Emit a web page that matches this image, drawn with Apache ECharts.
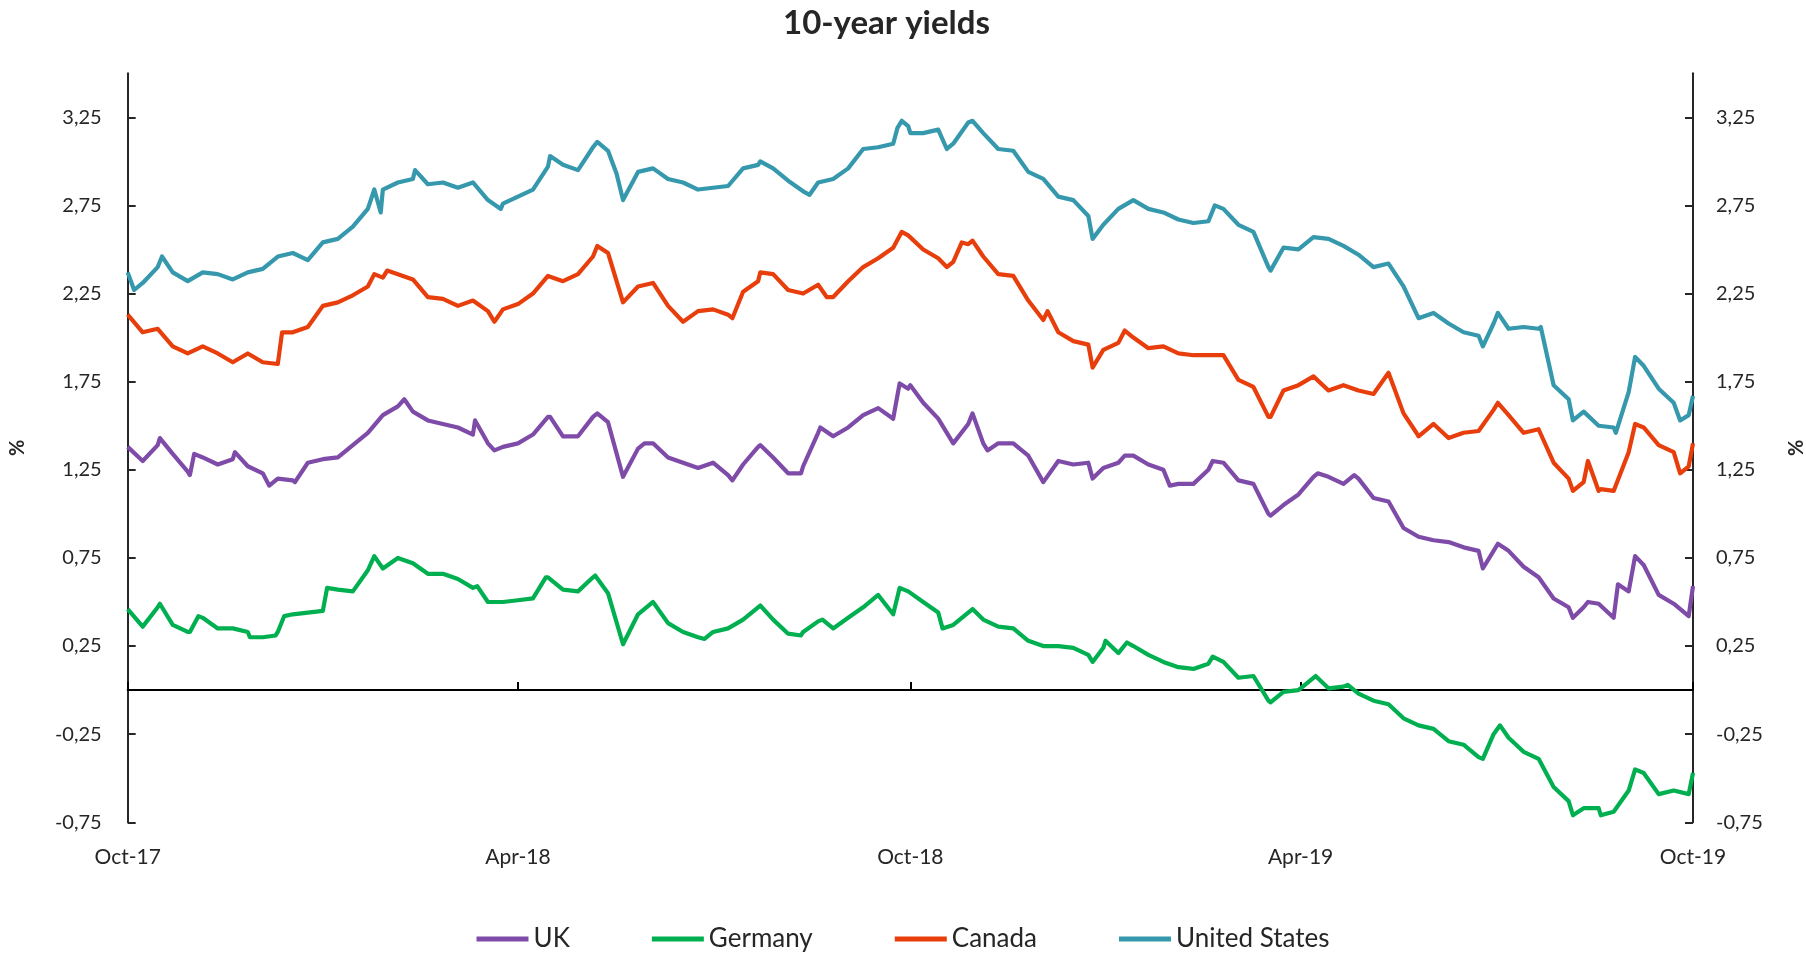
<!DOCTYPE html>
<html>
<head>
<meta charset="utf-8">
<script src="https://cdn.jsdelivr.net/npm/echarts@6/dist/echarts.min.js"></script>
<style>
html,body{margin:0;padding:0;background:#fff;}
#chart{width:1806px;height:959px;}
</style>
</head>
<body>
<div id="chart"></div>
<script>
// x positions: days since 1 Oct 2017; weekly observations plus extra observations read at turning points
const weekDays = [];
for (let k = 0; k <= 104; k++) weekDays.push(k * 7);
const lastDay = 730;

const tickDays = [0, 182, 365, 547, 730];
const tickLabels = ['Oct-17', 'Apr-18', 'Oct-18', 'Apr-19', 'Oct-19'];
const yTicks = [-0.75, -0.25, 0.25, 0.75, 1.25, 1.75, 2.25, 2.75, 3.25];

const seriesNames = ['UK', 'Germany', 'Canada', 'United States'];
const seriesColors = ['#7E4CA8', '#00B050', '#E83E0C', '#3598AC'];

// ---- UK ----
const ukValues = [
  1.38, 1.30, 1.39, 1.34, 1.24, 1.32, 1.28, 1.31, 1.27, 1.23,
  1.20, 1.19, 1.23, 1.31, 1.32, 1.39, 1.46, 1.56, 1.61, 1.58,
  1.53, 1.51, 1.49, 1.45, 1.40, 1.38, 1.40, 1.45, 1.55, 1.44,
  1.44, 1.55, 1.52, 1.22, 1.37, 1.40, 1.32, 1.29, 1.26, 1.29,
  1.22, 1.28, 1.38, 1.32, 1.23, 1.27, 1.46, 1.44, 1.49, 1.56,
  1.60, 1.56, 1.71, 1.63, 1.54, 1.40, 1.51, 1.40, 1.40, 1.40,
  1.33, 1.22, 1.30, 1.28, 1.29, 1.26, 1.29, 1.33, 1.28, 1.25,
  1.17, 1.17, 1.25, 1.29, 1.19, 1.17, 1.00, 1.05, 1.11, 1.21,
  1.21, 1.17, 1.20, 1.09, 1.07, 0.92, 0.87, 0.85, 0.84, 0.81,
  0.79, 0.79, 0.79, 0.70, 0.64, 0.52, 0.47, 0.47, 0.49, 0.45,
  0.56, 0.71, 0.54, 0.49, 0.44
];
const ukLast = 0.59;
const ukExtraDays = [15, 29, 31, 50, 66, 78, 84, 129, 162, 171, 197, 219, 231, 241, 282, 295, 314, 323, 357, 360, 365, 394, 401, 427, 450, 465, 486, 506, 533, 555, 572, 632, 639, 674, 681, 693, 695, 703, 728];
const ukExtraValues = [1.43, 1.22, 1.34, 1.35, 1.16, 1.18, 1.29, 1.65, 1.53, 1.36, 1.55, 1.57, 1.21, 1.40, 1.19, 1.39, 1.23, 1.49, 1.54, 1.74, 1.73, 1.57, 1.36, 1.18, 1.20, 1.33, 1.16, 1.30, 0.99, 1.23, 1.22, 0.69, 0.83, 0.41, 0.50, 0.41, 0.60, 0.76, 0.42];

// ---- Germany ----
const germanyValues = [
  0.46, 0.38, 0.47, 0.37, 0.33, 0.41, 0.35, 0.35, 0.33, 0.30,
  0.33, 0.43, 0.44, 0.45, 0.57, 0.56, 0.68, 0.73, 0.75, 0.72,
  0.66, 0.66, 0.63, 0.58, 0.50, 0.50, 0.51, 0.52, 0.64, 0.57,
  0.56, 0.64, 0.55, 0.28, 0.43, 0.49, 0.38, 0.33, 0.30, 0.33,
  0.35, 0.40, 0.47, 0.40, 0.32, 0.33, 0.39, 0.35, 0.41, 0.47,
  0.53, 0.47, 0.56, 0.50, 0.44, 0.37, 0.44, 0.40, 0.36, 0.35,
  0.28, 0.25, 0.25, 0.24, 0.20, 0.24, 0.21, 0.25, 0.20, 0.16,
  0.13, 0.12, 0.15, 0.16, 0.07, 0.08, -0.06, -0.01, 0.00, 0.07,
  0.01, 0.02, -0.02, -0.06, -0.08, -0.16, -0.20, -0.22, -0.29, -0.31,
  -0.38, -0.25, -0.27, -0.35, -0.39, -0.55, -0.63, -0.67, -0.67, -0.69,
  -0.57, -0.47, -0.59, -0.57, -0.58
];
const germanyLast = -0.47;
const germanyExtraDays = [7, 15, 29, 33, 57, 69, 73, 93, 115, 119, 163, 195, 218, 231, 245, 269, 295, 314, 324, 350, 357, 360, 380, 394, 450, 456, 466, 506, 533, 554, 569, 632, 640, 674, 687, 703, 728];
const germanyExtraValues = [0.36, 0.49, 0.33, 0.42, 0.30, 0.31, 0.42, 0.58, 0.76, 0.69, 0.59, 0.64, 0.65, 0.26, 0.50, 0.29, 0.48, 0.31, 0.40, 0.54, 0.43, 0.58, 0.35, 0.46, 0.16, 0.28, 0.27, 0.19, -0.07, 0.08, 0.03, -0.39, -0.20, -0.71, -0.71, -0.45, -0.59];

// ---- Canada ----
const canadaValues = [
  2.13, 2.03, 2.05, 1.95, 1.91, 1.95, 1.91, 1.86, 1.91, 1.86,
  1.88, 2.03, 2.06, 2.18, 2.20, 2.24, 2.29, 2.34, 2.36, 2.33,
  2.23, 2.22, 2.18, 2.21, 2.15, 2.16, 2.19, 2.25, 2.35, 2.32,
  2.36, 2.46, 2.48, 2.22, 2.29, 2.31, 2.18, 2.09, 2.15, 2.16,
  2.13, 2.26, 2.32, 2.36, 2.27, 2.25, 2.30, 2.23, 2.32, 2.40,
  2.45, 2.51, 2.58, 2.50, 2.45, 2.43, 2.53, 2.46, 2.36, 2.35,
  2.21, 2.10, 2.03, 1.98, 1.96, 1.93, 1.97, 2.00, 1.94, 1.95,
  1.91, 1.90, 1.90, 1.90, 1.76, 1.72, 1.55, 1.70, 1.73, 1.78,
  1.70, 1.73, 1.70, 1.68, 1.73, 1.57, 1.44, 1.51, 1.43, 1.46,
  1.47, 1.59, 1.56, 1.46, 1.48, 1.29, 1.20, 1.18, 1.13, 1.14,
  1.35, 1.49, 1.39, 1.35, 1.27
];
const canadaLast = 1.40;
const canadaExtraDays = [70, 72, 115, 121, 171, 219, 231, 259, 282, 295, 326, 361, 382, 389, 394, 429, 450, 465, 533, 588, 601, 639, 674, 681, 687, 693, 703, 724];
const canadaExtraValues = [1.85, 2.03, 2.36, 2.38, 2.09, 2.52, 2.20, 2.09, 2.11, 2.37, 2.23, 2.60, 2.40, 2.54, 2.55, 2.15, 1.83, 2.04, 1.55, 1.80, 1.46, 1.63, 1.13, 1.30, 1.14, 1.13, 1.51, 1.23];

// ---- United States ----
const usValues = [
  2.37, 2.31, 2.40, 2.37, 2.32, 2.37, 2.36, 2.33, 2.37, 2.39,
  2.46, 2.48, 2.44, 2.54, 2.56, 2.63, 2.73, 2.84, 2.88, 2.90,
  2.87, 2.88, 2.85, 2.88, 2.78, 2.76, 2.80, 2.84, 2.97, 2.98,
  2.95, 3.08, 3.06, 2.79, 2.94, 2.96, 2.90, 2.88, 2.84, 2.85,
  2.86, 2.96, 2.98, 2.96, 2.89, 2.83, 2.88, 2.90, 2.96, 3.07,
  3.08, 3.10, 3.20, 3.16, 3.18, 3.10, 3.22, 3.16, 3.07, 3.06,
  2.94, 2.90, 2.80, 2.78, 2.69, 2.64, 2.73, 2.78, 2.73, 2.71,
  2.67, 2.65, 2.66, 2.73, 2.64, 2.60, 2.40, 2.51, 2.50, 2.57,
  2.56, 2.52, 2.47, 2.40, 2.42, 2.29, 2.11, 2.14, 2.08, 2.03,
  2.01, 2.08, 2.05, 2.06, 2.05, 1.73, 1.65, 1.58, 1.50, 1.49,
  1.69, 1.84, 1.71, 1.63, 1.56
];
const usLast = 1.67;
const usExtraDays = [3, 16, 115, 118, 134, 174, 197, 219, 228, 231, 295, 318, 359, 361, 365, 382, 394, 450, 507, 533, 632, 639, 659, 674, 694, 703, 724];
const usExtraValues = [2.27, 2.46, 2.84, 2.71, 2.95, 2.73, 3.03, 3.11, 2.93, 2.78, 3.00, 2.81, 3.19, 3.23, 3.16, 3.07, 3.23, 2.56, 2.75, 2.38, 1.95, 2.14, 2.06, 1.53, 1.46, 1.89, 1.53];

function pairs(values, last, exDays, exValues) {
  const m = new Map();
  values.forEach((v, i) => m.set(weekDays[i], v));
  exDays.forEach((d, i) => m.set(d, exValues[i]));
  m.set(lastDay, last);
  return Array.from(m.entries()).sort((a, b) => a[0] - b[0]);
}

const FONT = 'Lato, "Open Sans", sans-serif';
const TXT = '#262626';
const AX = '#262626';

const chart = echarts.init(document.getElementById('chart'), null, {renderer: 'canvas'});

const yFmt = v => v.toFixed(2).replace('.', ',');

function yAxis(pos) {
  return {
    type: 'value', position: pos, min: -0.75, max: 3.5,
    axisLine: {show: true, onZero: false, lineStyle: {color: AX, width: 2}},
    axisTick: {show: true, inside: true, length: 8, customValues: yTicks, lineStyle: {color: AX, width: 2}},
    axisLabel: {customValues: yTicks, formatter: yFmt, margin: pos === 'left' ? 26 : 23,
      color: TXT, fontFamily: FONT, fontSize: 20},
    splitLine: {show: false},
    name: '%', nameLocation: 'middle', nameGap: pos === 'left' ? 100 : 94,
    nameRotate: 90,
    nameTextStyle: {color: TXT, fontFamily: FONT, fontSize: 20, fontWeight: 'bold'}
  };
}

const data = [
  pairs(ukValues, ukLast, ukExtraDays, ukExtraValues),
  pairs(germanyValues, germanyLast, germanyExtraDays, germanyExtraValues),
  pairs(canadaValues, canadaLast, canadaExtraDays, canadaExtraValues),
  pairs(usValues, usLast, usExtraDays, usExtraValues)
];

chart.setOption({
  animation: false,
  backgroundColor: '#fff',
  title: {
    text: '10-year yields', left: 778, top: 2,
    textStyle: {fontFamily: FONT, fontSize: 33, fontWeight: 'bold', color: TXT}
  },
  legend: {
    data: seriesNames, bottom: 2, left: 'center',
    icon: 'rect', itemWidth: 52, itemHeight: 5, itemGap: 82,
    textStyle: {fontFamily: FONT, fontSize: 26, color: TXT}
  },
  grid: {left: 127.7, right: 113, top: 73.2, bottom: 136.7, containLabel: false, outerBoundsMode: 'none'},
  xAxis: [
    {
      type: 'value', min: 0, max: 730, position: 'bottom',
      axisLine: {show: true, onZero: true, lineStyle: {color: '#000', width: 2}},
      axisTick: {show: true, inside: true, length: 8, customValues: tickDays, lineStyle: {color: '#000', width: 2}},
      axisLabel: {show: false},
      splitLine: {show: false}
    },
    {
      type: 'value', min: 0, max: 730, position: 'bottom',
      axisLine: {show: false, onZero: false},
      axisTick: {show: false},
      axisLabel: {customValues: tickDays, margin: 24, color: TXT, fontFamily: FONT, fontSize: 21,
        formatter: v => tickLabels[tickDays.indexOf(v)] || ''},
      splitLine: {show: false}
    }
  ],
  yAxis: [yAxis('left'), yAxis('right')],
  series: seriesNames.map((n, i) => ({
    name: n, type: 'line', xAxisIndex: 0, yAxisIndex: 0,
    data: data[i],
    showSymbol: false, symbol: 'none',
    lineStyle: {color: seriesColors[i], width: 4.2, join: 'round'},
    itemStyle: {color: seriesColors[i]}
  }))
});
</script>
</body>
</html>
